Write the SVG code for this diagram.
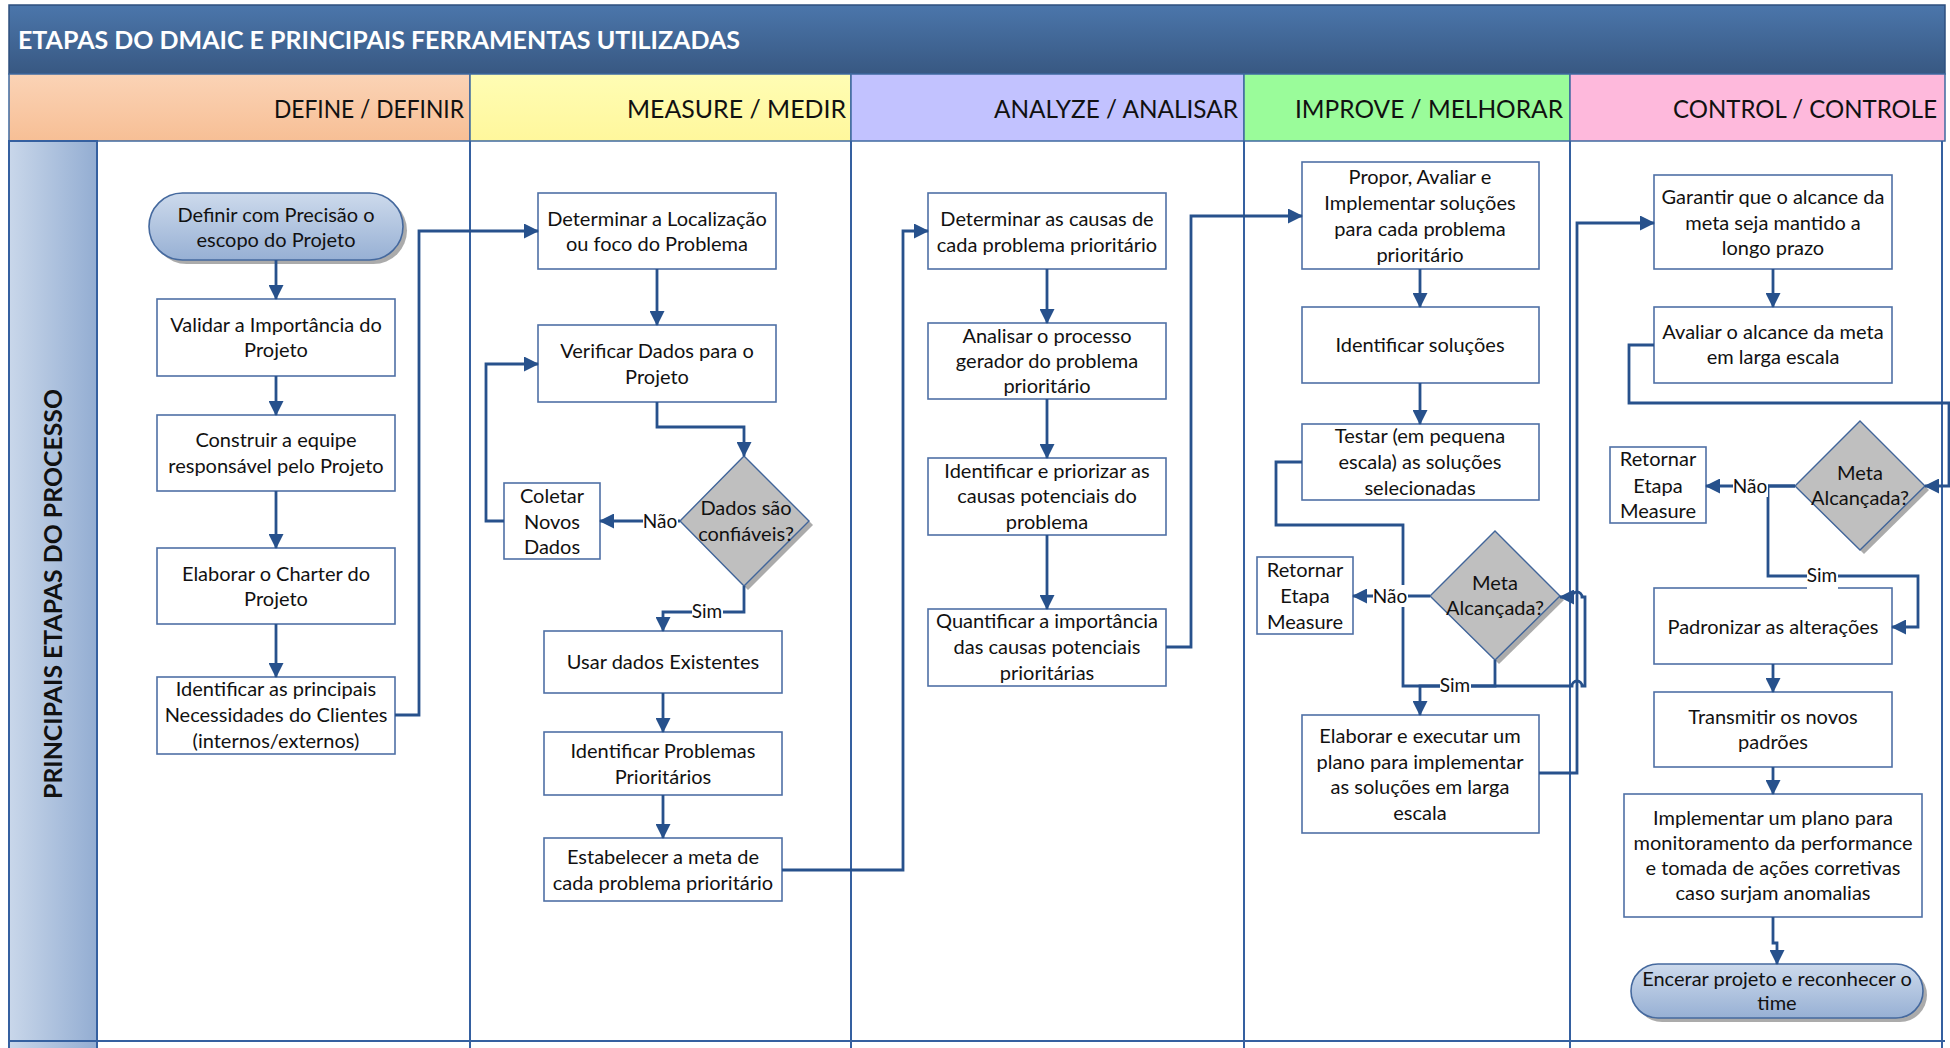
<svg xmlns="http://www.w3.org/2000/svg" width="1950" height="1048" viewBox="0 0 1950 1048">
<defs>
<linearGradient id="gTitle" x1="0" y1="0" x2="0" y2="1"><stop offset="0" stop-color="#4B76AB"/><stop offset="1" stop-color="#385882"/></linearGradient>
<linearGradient id="gSide" x1="0" y1="0" x2="1" y2="0"><stop offset="0" stop-color="#C9D7EA"/><stop offset="1" stop-color="#93ADD2"/></linearGradient>
<linearGradient id="gTerm" x1="0" y1="0" x2="0" y2="1"><stop offset="0" stop-color="#CDDAEC"/><stop offset="1" stop-color="#97B0D4"/></linearGradient>
<linearGradient id="gDef" x1="0" y1="0" x2="0" y2="1"><stop offset="0" stop-color="#FBD3B6"/><stop offset="1" stop-color="#F7BF95"/></linearGradient>
<linearGradient id="gMea" x1="0" y1="0" x2="0" y2="1"><stop offset="0" stop-color="#FFFDB4"/><stop offset="1" stop-color="#FFF79C"/></linearGradient>
<marker id="arr" markerWidth="15" markerHeight="15" refX="14" refY="7.5" orient="auto" markerUnits="userSpaceOnUse"><path d="M0,0 L15,7.5 L0,15 z" fill="#27518C"/></marker>
<style>
.box{fill:#fff;stroke:#4F70A6;stroke-width:1.6}
.dia{fill:#BFBFBF;stroke:#41659A;stroke-width:1.4}
.sh{fill:#8F8F8F;opacity:0.75}
.term{fill:url(#gTerm);stroke:#45699E;stroke-width:1.6}
.lane{stroke:#3560A0;stroke-width:2;fill:none}
.hdr{stroke:#3F6AA0;stroke-width:1.5}
.ca{fill:none;stroke:#27518C;stroke-width:2.8;marker-end:url(#arr)}
.t{font-family:Lato,"Open Sans",sans-serif;font-size:20px;fill:#111;text-anchor:middle}
.lb{font-family:Lato,"Open Sans",sans-serif;font-size:19px;fill:#111;text-anchor:middle}
.h{font-family:Lato,"Open Sans",sans-serif;font-size:25px;fill:#111;text-anchor:end}
.lbg{fill:#fff}
</style>
</defs>

<!-- frame -->
<g id="frame">
<rect x="9" y="5" width="1936" height="69" fill="url(#gTitle)" stroke="#2E4F7E" stroke-width="1.5"/>
<text x="18" y="49" font-family="Lato, 'Open Sans', sans-serif" font-weight="bold" font-size="25" fill="#fff" textLength="722" lengthAdjust="spacingAndGlyphs">ETAPAS DO DMAIC E PRINCIPAIS FERRAMENTAS UTILIZADAS</text>
<rect x="9" y="74" width="461" height="67" fill="url(#gDef)" class="hdr"/>
<rect x="470" y="74" width="381" height="67" fill="url(#gMea)" class="hdr"/>
<rect x="851" y="74" width="393" height="67" fill="#C2C2FF" class="hdr"/>
<rect x="1244" y="74" width="326" height="67" fill="#9AFC9A" class="hdr"/>
<rect x="1570" y="74" width="375" height="67" fill="#FEB9DC" class="hdr"/>
<text class="h" x="464" y="118" textLength="190" lengthAdjust="spacingAndGlyphs">DEFINE / DEFINIR</text>
<text class="h" x="846" y="118" textLength="219" lengthAdjust="spacingAndGlyphs">MEASURE / MEDIR</text>
<text class="h" x="1238" y="118" textLength="244" lengthAdjust="spacingAndGlyphs">ANALYZE / ANALISAR</text>
<text class="h" x="1563" y="118" textLength="268" lengthAdjust="spacingAndGlyphs">IMPROVE / MELHORAR</text>
<text class="h" x="1937" y="118" textLength="264" lengthAdjust="spacingAndGlyphs">CONTROL / CONTROLE</text>
<rect x="9" y="141" width="88" height="910" fill="url(#gSide)" stroke="#3560A0" stroke-width="2"/>
<text transform="translate(62,594) rotate(-90)" x="0" y="0" font-family="Lato, 'Open Sans', sans-serif" font-weight="bold" font-size="25" fill="#111" text-anchor="middle" textLength="410" lengthAdjust="spacingAndGlyphs">PRINCIPAIS ETAPAS DO PROCESSO</text>
<path class="lane" d="M470,141 V1048 M851,141 V1048 M1244,141 V1048 M1570,141 V1048 M1942,141 V1048 M9,1041 H1945"/>
</g>

<!-- DEFINE -->
<g id="n_d1"><rect class="sh" x="153" y="197" width="254" height="67" rx="33.5"/><rect class="term" x="149" y="193" width="254" height="67" rx="33.5"/><text class="t" x="276" y="222">Definir com Precisão o</text><text class="t" x="276" y="247">escopo do Projeto</text></g>
<g id="n_d2"><rect class="box" x="157" y="299" width="238" height="77"/><text class="t" x="276" y="332">Validar a Importância do</text><text class="t" x="276" y="357">Projeto</text></g>
<g id="n_d3"><rect class="box" x="157" y="415" width="238" height="76"/><text class="t" x="276" y="447">Construir a equipe</text><text class="t" x="276" y="473">responsável pelo Projeto</text></g>
<g id="n_d4"><rect class="box" x="157" y="548" width="238" height="76"/><text class="t" x="276" y="581">Elaborar o Charter do</text><text class="t" x="276" y="606">Projeto</text></g>
<g id="n_d5"><rect class="box" x="157" y="677" width="238" height="77"/><text class="t" x="276" y="696">Identificar as principais</text><text class="t" x="276" y="722">Necessidades do Clientes</text><text class="t" x="276" y="748">(internos/externos)</text></g>

<!-- MEASURE -->
<g id="n_m1"><rect class="box" x="538" y="193" width="238" height="76"/><text class="t" x="657" y="226">Determinar a Localização</text><text class="t" x="657" y="251">ou foco do Problema</text></g>
<g id="n_m2"><rect class="box" x="538" y="325" width="238" height="77"/><text class="t" x="657" y="358">Verificar Dados para o</text><text class="t" x="657" y="384">Projeto</text></g>
<g id="n_m3"><polygon class="sh" points="748,460 813,525 748,590 684,525"/><polygon class="dia" points="744,456 809,521 744,586 680,521"/><text class="t" x="746" y="515">Dados são</text><text class="t" x="746" y="541">confiáveis?</text></g>
<g id="n_m4"><rect class="box" x="504" y="483" width="96" height="76"/><text class="t" x="552" y="503">Coletar</text><text class="t" x="552" y="529">Novos</text><text class="t" x="552" y="554">Dados</text></g>
<g id="n_m5"><rect class="box" x="544" y="631" width="238" height="62"/><text class="t" x="663" y="669">Usar dados Existentes</text></g>
<g id="n_m6"><rect class="box" x="544" y="732" width="238" height="63"/><text class="t" x="663" y="758">Identificar Problemas</text><text class="t" x="663" y="784">Prioritários</text></g>
<g id="n_m7"><rect class="box" x="544" y="838" width="238" height="63"/><text class="t" x="663" y="864">Estabelecer a meta de</text><text class="t" x="663" y="890">cada problema prioritário</text></g>

<!-- ANALYZE -->
<g id="n_a1"><rect class="box" x="928" y="193" width="238" height="76"/><text class="t" x="1047" y="226">Determinar as causas de</text><text class="t" x="1047" y="252">cada problema prioritário</text></g>
<g id="n_a2"><rect class="box" x="928" y="323" width="238" height="76"/><text class="t" x="1047" y="343">Analisar o processo</text><text class="t" x="1047" y="368">gerador do problema</text><text class="t" x="1047" y="393">prioritário</text></g>
<g id="n_a3"><rect class="box" x="928" y="458" width="238" height="77"/><text class="t" x="1047" y="478">Identificar e priorizar as</text><text class="t" x="1047" y="503">causas potenciais do</text><text class="t" x="1047" y="529">problema</text></g>
<g id="n_a4"><rect class="box" x="928" y="609" width="238" height="77"/><text class="t" x="1047" y="628">Quantificar a importância</text><text class="t" x="1047" y="654">das causas potenciais</text><text class="t" x="1047" y="680">prioritárias</text></g>

<!-- IMPROVE -->
<g id="n_i1"><rect class="box" x="1302" y="162" width="237" height="107"/><text class="t" x="1420" y="184">Propor, Avaliar e</text><text class="t" x="1420" y="210">Implementar soluções</text><text class="t" x="1420" y="236">para cada problema</text><text class="t" x="1420" y="262">prioritário</text></g>
<g id="n_i2"><rect class="box" x="1302" y="307" width="237" height="76"/><text class="t" x="1420" y="352">Identificar soluções</text></g>
<g id="n_i3"><rect class="box" x="1302" y="424" width="237" height="76"/><text class="t" x="1420" y="443">Testar (em pequena</text><text class="t" x="1420" y="469">escala) as soluções</text><text class="t" x="1420" y="495">selecionadas</text></g>
<g id="n_i4"><polygon class="sh" points="1499,535 1564,600 1499,664 1434,600"/><polygon class="dia" points="1495,531 1560,596 1495,660 1430,596"/><text class="t" x="1495" y="590">Meta</text><text class="t" x="1495" y="615">Alcançada?</text></g>
<g id="n_i5"><rect class="box" x="1257" y="557" width="96" height="77"/><text class="t" x="1305" y="577">Retornar</text><text class="t" x="1305" y="603">Etapa</text><text class="t" x="1305" y="629">Measure</text></g>
<g id="n_i6"><rect class="box" x="1302" y="715" width="237" height="118"/><text class="t" x="1420" y="743">Elaborar e executar um</text><text class="t" x="1420" y="769">plano para implementar</text><text class="t" x="1420" y="794">as soluções em larga</text><text class="t" x="1420" y="820">escala</text></g>

<!-- CONTROL -->
<g id="n_c1"><rect class="box" x="1654" y="175" width="238" height="94"/><text class="t" x="1773" y="204">Garantir que o alcance da</text><text class="t" x="1773" y="230">meta seja mantido a</text><text class="t" x="1773" y="255">longo prazo</text></g>
<g id="n_c2"><rect class="box" x="1654" y="307" width="238" height="76"/><text class="t" x="1773" y="339">Avaliar o alcance da meta</text><text class="t" x="1773" y="364">em larga escala</text></g>
<g id="n_c3"><polygon class="sh" points="1864,425 1929,490 1864,554 1799,490"/><polygon class="dia" points="1860,421 1925,486 1860,550 1795,486"/><text class="t" x="1860" y="480">Meta</text><text class="t" x="1860" y="505">Alcançada?</text></g>
<g id="n_c4"><rect class="box" x="1610" y="447" width="96" height="76"/><text class="t" x="1658" y="466">Retornar</text><text class="t" x="1658" y="493">Etapa</text><text class="t" x="1658" y="518">Measure</text></g>
<g id="n_c5"><rect class="box" x="1654" y="588" width="238" height="76"/><text class="t" x="1773" y="634">Padronizar as alterações</text></g>
<g id="n_c6"><rect class="box" x="1654" y="692" width="238" height="75"/><text class="t" x="1773" y="724">Transmitir os novos</text><text class="t" x="1773" y="749">padrões</text></g>
<g id="n_c7"><rect class="box" x="1624" y="794" width="298" height="123"/><text class="t" x="1773" y="825">Implementar um plano para</text><text class="t" x="1773" y="850">monitoramento da performance</text><text class="t" x="1773" y="875">e tomada de ações corretivas</text><text class="t" x="1773" y="900">caso surjam anomalias</text></g>
<g id="n_c8"><rect class="sh" x="1635" y="968" width="292" height="54" rx="27"/><rect class="term" x="1631" y="964" width="292" height="54" rx="27"/><text class="t" x="1777" y="986">Encerar projeto e reconhecer o</text><text class="t" x="1777" y="1010">time</text></g>

<!-- connectors -->
<g id="connectors">
<path class="ca" d="M276,260 V299"/>
<path class="ca" d="M276,376 V415"/>
<path class="ca" d="M276,491 V548"/>
<path class="ca" d="M276,624 V677"/>
<path class="ca" d="M395,715 H419 V231 H538"/>
<path class="ca" d="M657,269 V325"/>
<path class="ca" d="M657,402 V427 H744 V456"/>
<path class="ca" d="M680,521 H600"/>
<path class="ca" d="M504,521 H486 V364 H538"/>
<path class="ca" d="M744,586 V612 H663 V631"/>
<path class="ca" d="M663,693 V732"/>
<path class="ca" d="M663,795 V838"/>
<path class="ca" d="M782,870 H903 V231 H928"/>
<path class="ca" d="M1047,269 V323"/>
<path class="ca" d="M1047,399 V458"/>
<path class="ca" d="M1047,535 V609"/>
<path class="ca" d="M1166,647 H1191 V216 H1302"/>
<path class="ca" d="M1420,269 V307"/>
<path class="ca" d="M1420,383 V424"/>
<path class="ca" d="M1302,462 H1276 V525 H1403 V686 H1572 a5,5 0 0 1 10,0 H1585 V597 H1582 a5,5 0 0 0 -10,0 H1560"/>
<path class="ca" d="M1495,660 V686 H1420 V715"/>
<path class="ca" d="M1430,596 H1353"/>
<path class="ca" d="M1539,773 H1577 V223 H1654"/>
<path class="ca" d="M1773,269 V307"/>
<path class="ca" d="M1654,345 H1629 V403 H1949 V486 H1925"/>
<path class="ca" d="M1795,486 H1706"/>
<path class="ca" d="M1795,486 H1768 V576 H1918 V627 H1892"/>
<path class="ca" d="M1773,664 V692"/>
<path class="ca" d="M1773,767 V794"/>
<path class="ca" d="M1773,917 V943 H1777 V964"/>
<!-- labels -->
<rect class="lbg" x="643" y="510" width="35" height="22"/><text class="lb" x="660" y="528">Não</text>
<rect class="lbg" x="692" y="601" width="31" height="22"/><text class="lb" x="707" y="618">Sim</text>
<rect class="lbg" x="1373" y="585" width="35" height="22"/><text class="lb" x="1390" y="603">Não</text>
<rect class="lbg" x="1440" y="675" width="31" height="22"/><text class="lb" x="1455" y="692">Sim</text>
<rect class="lbg" x="1733" y="475" width="35" height="22"/><text class="lb" x="1750" y="493">Não</text>
<rect class="lbg" x="1807" y="565" width="31" height="25"/><text class="lb" x="1822" y="582">Sim</text>
</g>
</svg>
